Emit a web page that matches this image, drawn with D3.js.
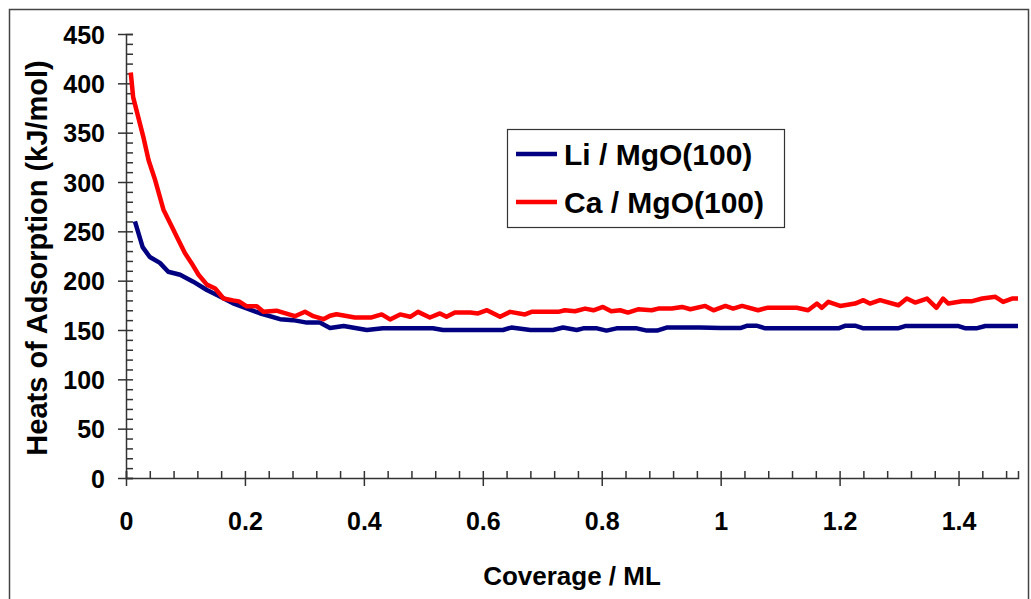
<!DOCTYPE html>
<html>
<head>
  <script src="https://d3js.org/d3.v7.min.js"></script>
  <style>
    body { margin: 0; background: #fff; }
    text { font-family: "Liberation Sans", Arial, sans-serif; font-weight: bold; fill: #000; }
  </style>
</head>
<body>
  <svg id="chart" width="1031" height="599"></svg>
  <script>
    // values
    const liCoverage = [0.015, 0.028, 0.04, 0.057, 0.071, 0.091, 0.113, 0.136, 0.158, 0.18, 0.203, 0.225, 0.259, 0.281, 0.304, 0.326,
      0.343, 0.366, 0.405, 0.432, 0.516, 0.533, 0.634, 0.648, 0.68, 0.718, 0.735, 0.758, 0.769, 0.792, 0.808, 0.825, 0.859, 0.876,
      0.893, 0.909, 0.965, 1.0, 1.033, 1.045, 1.06, 1.075, 1.198, 1.21, 1.226, 1.24, 1.298, 1.31, 1.4, 1.412, 1.43, 1.445, 1.5];
    const liHeat = [260, 234, 224, 218, 209, 206, 199, 190.5, 184, 177, 172, 167, 161, 160, 157.5, 157.5,
      152, 154, 150, 151.7, 151.7, 150, 150, 152.5, 150, 150, 152.5, 150, 151.7, 151.7, 149.4, 151.7, 151.7, 149.4,
      149.4, 152.5, 152.5, 152, 152, 154.4, 154.4, 151.7, 151.7, 154.4, 154.4, 151.7, 151.7, 154, 154, 151.7, 151.7, 154, 154];

    const caCoverage = [0.008, 0.012, 0.029, 0.038, 0.049, 0.063, 0.077, 0.085, 0.099, 0.11, 0.122, 0.136, 0.15, 0.164, 0.18, 0.19,
      0.203, 0.22, 0.231, 0.253, 0.284, 0.301, 0.315, 0.332, 0.343, 0.354, 0.385, 0.413, 0.43, 0.444, 0.461, 0.478, 0.491, 0.511,
      0.528, 0.539, 0.553, 0.579, 0.592, 0.607, 0.629, 0.646, 0.671, 0.682, 0.727, 0.738, 0.755, 0.772, 0.786, 0.802, 0.816, 0.831,
      0.844, 0.861, 0.884, 0.895, 0.918, 0.935, 0.949, 0.974, 0.988, 1.008, 1.021, 1.036, 1.063, 1.078, 1.128, 1.147, 1.162, 1.17,
      1.181, 1.201, 1.226, 1.24, 1.251, 1.268, 1.299, 1.313, 1.327, 1.347, 1.363, 1.374, 1.383, 1.406, 1.423, 1.44, 1.462, 1.475,
      1.49, 1.5];
    const caHeat = [411, 386, 346, 322, 302, 272, 255, 245, 228, 218, 206, 196, 192, 182, 180, 179,
      174, 174, 168.5, 169.6, 164, 168.5, 164, 161, 164.5, 166, 162.7, 162.7, 165.8, 160.7, 165.8, 163.4, 168.4, 162.7,
      166.8, 163.4, 167.7, 167.7, 166.8, 170.1, 163.4, 168.4, 165.8, 168.4, 168.4, 170, 169, 171.7, 170, 173.4, 169, 170,
      167.7, 171, 170, 171.7, 171.7, 173.4, 171, 174.4, 170, 174.4, 171.7, 174.4, 170, 172.5, 172.5, 170, 176.8, 172.5,
      178.5, 174.4, 176.8, 180.2, 176.8, 180.2, 175.1, 181.9, 177.8, 181.9, 172.5, 181.9, 176.8, 179.2, 179.2, 181.9, 183.6, 178.5,
      181.9, 181.9];

    const xMajorTicks = [0, 0.2, 0.4, 0.6, 0.8, 1, 1.2, 1.4];
    const yMajorTicks = [0, 50, 100, 150, 200, 250, 300, 350, 400, 450];
    const seriesNames = ["Li / MgO(100)", "Ca / MgO(100)"];
    const seriesColors = ["#000080", "#ff0000"];

    const svg = d3.select("#chart");

    // outer frame
    svg.append("rect")
      .attr("x", 9.5).attr("y", 9.5)
      .attr("width", 1019).attr("height", 620)
      .attr("fill", "none").attr("stroke", "#444").attr("stroke-width", 1.5);

    const x = d3.scaleLinear().domain([0, 1.5]).range([126, 1018]);
    const y = d3.scaleLinear().domain([0, 450]).range([478, 34]);

    const xMinor = d3.range(0, 1.5001, 0.04).map(d => +d.toFixed(2)).filter(d => d <= 1.5);
    const yMinor = d3.range(0, 451, 10);

    // x axis: major ticks down with labels, all ticks up
    const xDown = svg.append("g")
      .attr("transform", `translate(0,${y(0)})`)
      .call(d3.axisBottom(x).tickValues(xMajorTicks).tickSize(8).tickPadding(26).tickFormat(d3.format("")));
    const xUp = svg.append("g")
      .attr("transform", `translate(0,${y(0)})`)
      .call(d3.axisTop(x).tickValues(xMinor).tickSize(7).tickFormat(""));

    // y axis: major ticks left with labels, all ticks right
    const yLeft = svg.append("g")
      .attr("transform", `translate(${x(0)},0)`)
      .call(d3.axisLeft(y).tickValues(yMajorTicks).tickSize(8).tickPadding(13));
    const yRight = svg.append("g")
      .attr("transform", `translate(${x(0)},0)`)
      .call(d3.axisRight(y).tickValues(yMinor).tickSize(7).tickFormat(""));

    [xDown, xUp, yLeft, yRight].forEach(g => {
      g.selectAll("path.domain").attr("stroke", "#333").attr("stroke-width", 1.5);
      g.selectAll(".tick line").attr("stroke", "#333").attr("stroke-width", 1.5);
      g.selectAll(".tick text")
        .style("font-family", "'Liberation Sans', Arial, sans-serif")
        .style("font-weight", "bold")
        .style("font-size", "25px")
        .attr("fill", "#000");
    });
    xDown.select("path.domain").remove();
    yLeft.select("path.domain").remove();
    yLeft.selectAll(".tick text").attr("dy", "0.36em");

    // axis titles
    svg.append("text")
      .attr("x", 572).attr("y", 585)
      .attr("text-anchor", "middle")
      .style("font-size", "26px")
      .text("Coverage / ML");

    svg.append("text")
      .attr("transform", `translate(47,258) rotate(-90)`)
      .attr("text-anchor", "middle")
      .style("font-size", "29px")
      .text("Heats of Adsorption (kJ/mol)");

    // lines
    const line = d3.line()
      .x(d => x(d[0]))
      .y(d => y(d[1]));

    const liData = liCoverage.map((c, i) => [c, liHeat[i]]);
    const caData = caCoverage.map((c, i) => [c, caHeat[i]]);

    svg.append("path")
      .attr("d", line(liData))
      .attr("fill", "none")
      .attr("stroke", seriesColors[0])
      .attr("stroke-width", 4.5)
      .attr("stroke-linejoin", "round");

    svg.append("path")
      .attr("d", line(caData))
      .attr("fill", "none")
      .attr("stroke", seriesColors[1])
      .attr("stroke-width", 4.5)
      .attr("stroke-linejoin", "round");

    // legend
    const legend = svg.append("g").attr("transform", "translate(507,129)");
    legend.append("rect")
      .attr("x", 0.5).attr("y", 0.5)
      .attr("width", 277).attr("height", 98)
      .attr("fill", "#fff").attr("stroke", "#333").attr("stroke-width", 1.2);

    seriesNames.forEach((name, i) => {
      const ly = 25 + i * 48;
      legend.append("line")
        .attr("x1", 9).attr("x2", 50)
        .attr("y1", ly).attr("y2", ly)
        .attr("stroke", seriesColors[i]).attr("stroke-width", 4.5);
      legend.append("text")
        .attr("x", 57).attr("y", ly + 11)
        .style("font-size", "30px")
        .text(name);
    });
  </script>
</body>
</html>
